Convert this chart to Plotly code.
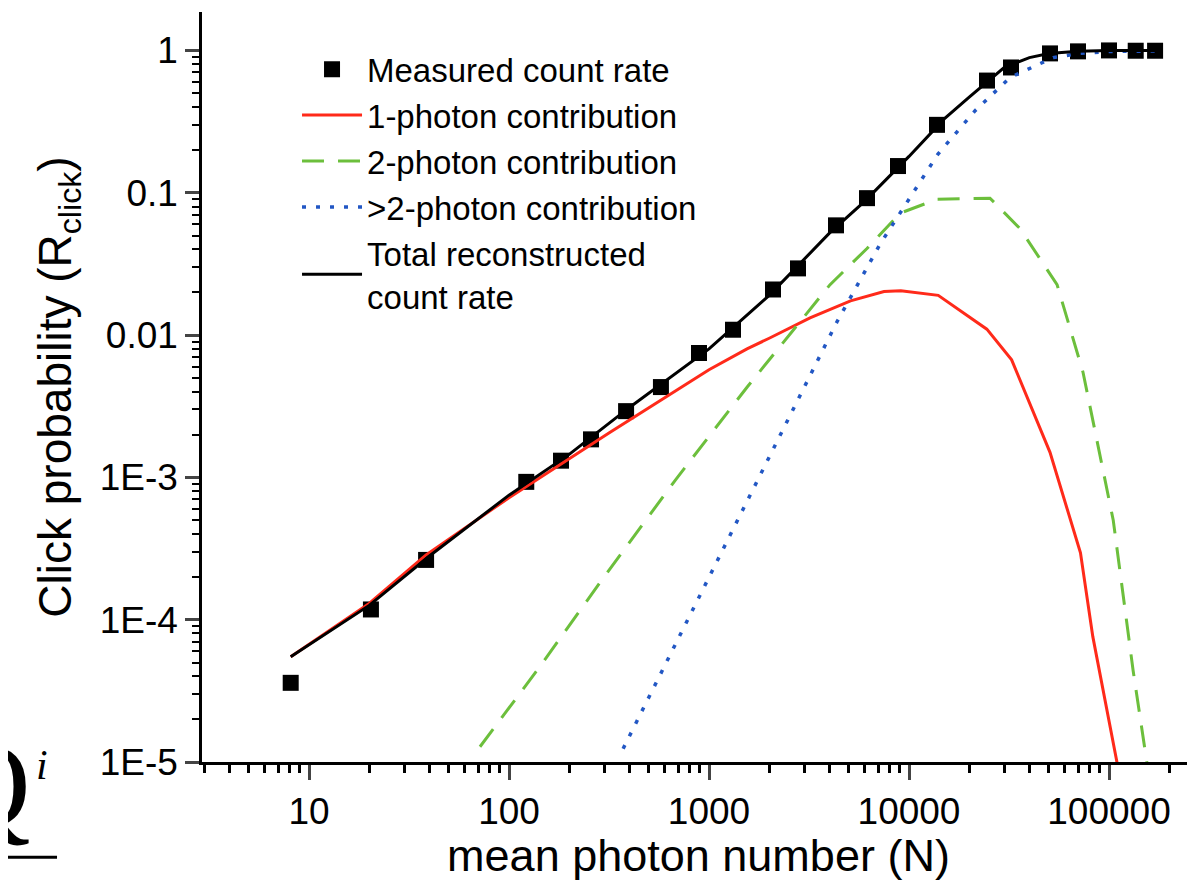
import plotly.graph_objects as go

# measured click probability
meas_n = [8.1, 20.4, 38.5, 122, 182, 257, 385, 575, 891, 1318, 2089, 2786, 4315, 6166,
          8810, 13800, 24550, 32360, 50700, 70000, 100000, 136000, 170000]
meas_r = [3.6e-5, 1.18e-4, 2.63e-4, 9.3e-4, 1.31e-3, 1.85e-3, 2.92e-3, 4.31e-3, 7.48e-3,
          0.0109, 0.0209, 0.0294, 0.059, 0.0916, 0.154, 0.30, 0.614, 0.759, 0.953, 0.985,
          1.0, 0.995, 0.995]

# 1-photon contribution
one_n = [8.1, 20, 38.5, 100, 200, 316, 1000, 1549, 2000, 3200, 5100, 7500, 9100, 14000,
         24500, 32600, 50700, 72000, 83000, 100000, 110000]
one_r = [5.5e-5, 1.3e-4, 2.85e-4, 7.2e-4, 1.35e-3, 2.05e-3, 5.7e-3, 8.0e-3, 0.0095, 0.0132,
         0.0174, 0.0202, 0.0205, 0.019, 0.011, 6.7e-3, 1.5e-3, 2.95e-4, 7.6e-5, 1.95e-5,
         9.7e-6]

# 2-photon contribution
two_n = [71.6, 143, 295, 676, 1549, 4030, 6166, 9020, 13800, 25400, 35900, 55000, 74100,
         105000, 132000, 155000]
two_r = [1.28e-5, 4.7e-5, 1.95e-4, 9.5e-4, 4.3e-3, 0.0226, 0.0406, 0.0718, 0.090, 0.0916,
         0.056, 0.0226, 5.5e-3, 5.0e-4, 4.4e-5, 9.7e-6]

# >2-photon contribution
multi_n = [372, 851, 1738, 4365, 7160, 13960, 21400, 32000, 52500, 71600, 101000, 170000]
multi_r = [1.24e-5, 1.26e-4, 9.6e-4, 0.0124, 0.0434, 0.187, 0.377, 0.645, 0.89, 0.953,
           0.984, 0.99]

# total reconstructed count rate
tot_n = [8.1, 20, 40, 100, 200, 400, 1000, 2000, 4000, 6000, 10000, 15000, 20000, 30000,
         40000, 50000, 70000, 100000, 170000]
tot_r = [5.5e-5, 1.26e-4, 2.8e-4, 7.5e-4, 1.45e-3, 3.1e-3, 8.0e-3, 0.019, 0.052, 0.087,
         0.18, 0.33, 0.47, 0.76, 0.89, 0.95, 0.985, 1.0, 1.0]

x_ticks = [10, 100, 1000, 10000, 100000]
x_labels = ["10", "100", "1000", "10000", "100000"]
y_ticks = [1e-5, 1e-4, 1e-3, 0.01, 0.1, 1]
y_labels = ["1E-5", "1E-4", "1E-3", "0.01", "0.1", "1"]

minor_x = [m * 10 ** d for d in range(0, 6) for m in range(2, 10)]
minor_y = [m * 10.0 ** d for d in range(-5, 1) for m in range(2, 10)]

FONT = "Liberation Sans, Arial, sans-serif"

fig = go.Figure()
fig.add_trace(go.Scatter(x=meas_n, y=meas_r, mode="markers", name="Measured count rate",
                         legendgroup="a",
                         marker=dict(symbol="square", size=16, color="black")))
fig.add_trace(go.Scatter(x=one_n, y=one_r, mode="lines", name="1-photon contribution",
                         legendgroup="b", line=dict(color="#ff2a1a", width=3)))
fig.add_trace(go.Scatter(x=two_n, y=two_r, mode="lines", name="2-photon contribution",
                         legendgroup="c",
                         line=dict(color="#6cbf3c", width=3, dash="22px,14px")))
fig.add_trace(go.Scatter(x=multi_n, y=multi_r, mode="lines", name=">2-photon contribution",
                         legendgroup="d",
                         line=dict(color="#2257c4", width=3.5, dash="4px,10px")))
fig.add_trace(go.Scatter(x=tot_n, y=tot_r, mode="lines",
                         name="Total reconstructed<br>count rate", legendgroup="e",
                         line=dict(color="black", width=3)))

fig.update_xaxes(type="log", range=[0.465, 5.43], tickmode="array", tickvals=x_ticks,
                 ticktext=x_labels, ticks="outside", ticklen=15, tickwidth=2.5,
                 showline=True, linecolor="black", linewidth=2.5, showgrid=False,
                 zeroline=False, automargin=False,
                 tickfont=dict(size=37, color="black", family=FONT),
                 minor=dict(tickmode="array", tickvals=minor_x, ticks="outside",
                            ticklen=8, tickwidth=2.5, tickcolor="black", showgrid=False),
                 title=dict(text="mean photon number (N)", standoff=2,
                            font=dict(size=45, color="black", family=FONT)))
fig.update_yaxes(type="log", range=[-5.0, 0.27], tickmode="array", tickvals=y_ticks,
                 ticktext=y_labels, ticks="outside", ticklen=14, tickwidth=2.5,
                 showline=True, linecolor="black", linewidth=2.5, showgrid=False,
                 zeroline=False, automargin=False,
                 tickfont=dict(size=37, color="black", family=FONT),
                 minor=dict(tickmode="array", tickvals=minor_y, ticks="outside",
                            ticklen=7, tickwidth=2, tickcolor="black", showgrid=False),
                 title=dict(text="Click probability (R<sub>click</sub>)", standoff=14,
                            font=dict(size=46, color="black", family=FONT)))

# cropped fragment of an equation at the lower-left corner
fig.add_annotation(text="Q", xref="paper", yref="paper", x=-0.170, y=-0.123,
                   xanchor="right", yanchor="bottom", showarrow=False,
                   font=dict(size=120, color="black", family="Liberation Serif"))
fig.add_annotation(text="<i>i</i>", xref="paper", yref="paper", x=-0.161, y=-0.004,
                   xanchor="center", yanchor="middle", showarrow=False,
                   font=dict(size=42, color="black", family="Liberation Serif"))
fig.add_shape(type="line", xref="paper", yref="paper", x0=-0.196, x1=-0.146,
              y0=-0.127, y1=-0.127, line=dict(color="black", width=3))

# page body has an 8px margin, so the figure is sized to fit inside the window
fig.update_layout(
    width=1187, height=873,
    margin=dict(l=194, r=0, t=4, b=119),
    plot_bgcolor="white", paper_bgcolor="white",
    font=dict(family=FONT, color="black"),
    legend=dict(x=0.0957, y=0.961, xanchor="left", yanchor="top",
                bgcolor="rgba(0,0,0,0)", font=dict(size=33, color="black", family=FONT),
                tracegroupgap=0, itemwidth=60),
    showlegend=True,
)

fig.write_html("out.html")
